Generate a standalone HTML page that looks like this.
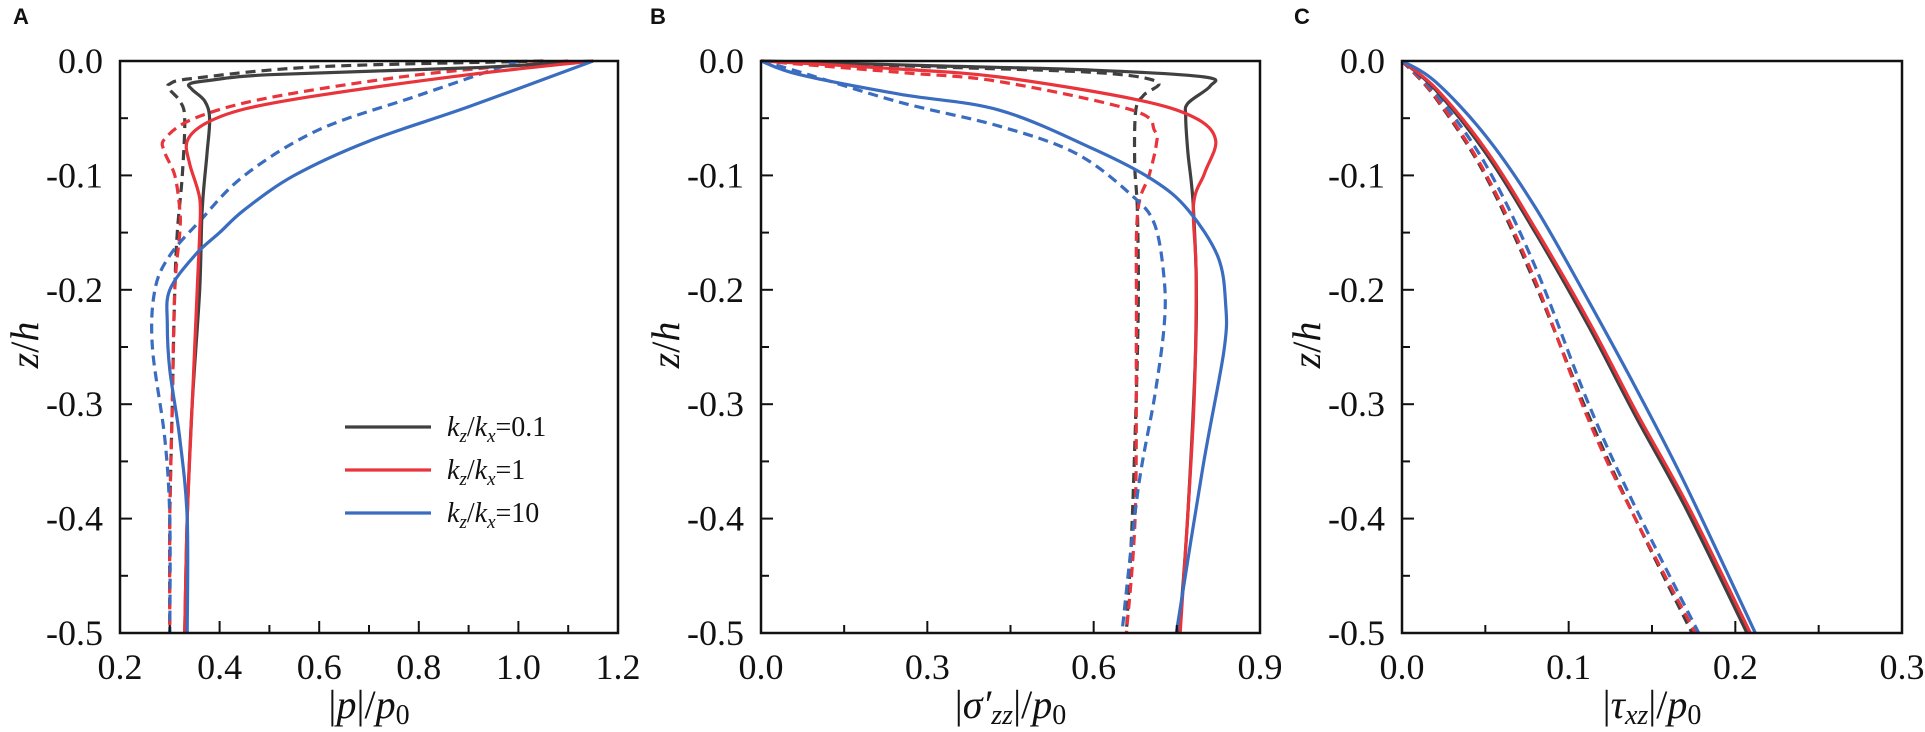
<!DOCTYPE html>
<html><head><meta charset="utf-8"><style>
body{margin:0;background:#fff;}
svg{display:block;}
text{font-family:"Liberation Serif",serif;fill:#111;}
.pl{font-family:"Liberation Sans",sans-serif;font-weight:bold;font-size:22px;}
</style></head><body>
<svg id="fig" width="1925" height="732" viewBox="0 0 1925 732"></svg>
<script>
// ---- data ----
const zTicks=[0,-0.1,-0.2,-0.3,-0.4,-0.5];
const aXTicks=[0.2,0.4,0.6,0.8,1.0,1.2];
const bXTicks=[0,0.3,0.6,0.9];
const cXTicks=[0,0.1,0.2,0.3];
const legendLabels=["0.1","1","10"];
const colors=["#404040","#e8343a","#3a6cc0"];
// panel A: [x,z]
const aBlackSolid=[[1.15,0],[0.9,-0.006],[0.5,-0.012],[0.38,-0.017],[0.34,-0.02],[0.345,-0.025],[0.37,-0.035],[0.38,-0.05],[0.375,-0.08],[0.365,-0.13],[0.36,-0.2],[0.345,-0.3],[0.335,-0.4],[0.33,-0.5]];
const aBlackDash=[[1.05,0],[0.6,-0.005],[0.35,-0.015],[0.3,-0.02],[0.3,-0.025],[0.32,-0.035],[0.33,-0.05],[0.325,-0.1],[0.315,-0.15],[0.31,-0.2],[0.305,-0.3],[0.3,-0.4],[0.3,-0.5]];
const aRedSolid=[[1.15,0],[0.9,-0.012],[0.6,-0.03],[0.45,-0.042],[0.37,-0.055],[0.335,-0.07],[0.34,-0.09],[0.36,-0.12],[0.36,-0.15],[0.355,-0.2],[0.345,-0.3],[0.335,-0.4],[0.33,-0.5]];
const aRedDash=[[1.1,0],[0.8,-0.012],[0.5,-0.032],[0.35,-0.05],[0.29,-0.068],[0.29,-0.08],[0.31,-0.1],[0.32,-0.13],[0.32,-0.15],[0.31,-0.2],[0.305,-0.3],[0.3,-0.4],[0.3,-0.5]];
const aBlueSolid=[[1.15,0],[0.9,-0.04],[0.7,-0.07],[0.55,-0.1],[0.45,-0.13],[0.4,-0.15],[0.35,-0.17],[0.3,-0.2],[0.295,-0.23],[0.3,-0.27],[0.32,-0.33],[0.335,-0.4],[0.335,-0.5]];
const aBlueDash=[[1.0,0],[0.8,-0.03],[0.6,-0.06],[0.45,-0.1],[0.36,-0.14],[0.3,-0.17],[0.27,-0.2],[0.265,-0.25],[0.29,-0.33],[0.3,-0.4],[0.3,-0.5]];
// panel B
const bBlackSolid=[[0,0],[0.3,-0.004],[0.6,-0.008],[0.8,-0.014],[0.81,-0.022],[0.77,-0.037],[0.766,-0.049],[0.77,-0.08],[0.78,-0.13],[0.785,-0.232],[0.77,-0.395],[0.754,-0.5]];
const bBlackDash=[[0,0],[0.3,-0.005],[0.6,-0.01],[0.714,-0.018],[0.69,-0.03],[0.676,-0.043],[0.674,-0.09],[0.679,-0.134],[0.68,-0.23],[0.67,-0.395],[0.659,-0.5]];
const bRedSolid=[[0,0],[0.25,-0.007],[0.43,-0.014],[0.67,-0.033],[0.78,-0.049],[0.82,-0.069],[0.8,-0.098],[0.78,-0.126],[0.785,-0.19],[0.78,-0.31],[0.756,-0.5]];
const bRedDash=[[0,0],[0.25,-0.01],[0.43,-0.018],[0.67,-0.043],[0.71,-0.061],[0.713,-0.073],[0.7,-0.1],[0.679,-0.134],[0.677,-0.23],[0.675,-0.395],[0.659,-0.5]];
const bBlueSolid=[[0,0],[0.07,-0.012],[0.25,-0.029],[0.43,-0.043],[0.6,-0.077],[0.707,-0.104],[0.77,-0.13],[0.824,-0.171],[0.838,-0.212],[0.835,-0.253],[0.797,-0.355],[0.749,-0.5]];
const bBlueDash=[[0,0],[0.07,-0.0096],[0.25,-0.036],[0.43,-0.057],[0.569,-0.081],[0.67,-0.118],[0.71,-0.143],[0.727,-0.19],[0.727,-0.232],[0.71,-0.293],[0.68,-0.375],[0.651,-0.5]];
// panel C
const cBlackSolid=[[0,0],[0.02,-0.025],[0.05,-0.08],[0.08,-0.15],[0.112,-0.232],[0.14,-0.31],[0.17,-0.39],[0.207,-0.5]];
const cRedSolid=[[0,0],[0.021,-0.025],[0.051,-0.079],[0.081,-0.149],[0.113,-0.23],[0.141,-0.308],[0.172,-0.39],[0.209,-0.5]];
const cBlueSolid=[[0,0],[0.02,-0.018],[0.05,-0.065],[0.08,-0.128],[0.112,-0.21],[0.14,-0.285],[0.17,-0.37],[0.212,-0.5]];
const cBlackDash=[[0,0],[0.02,-0.032],[0.05,-0.1],[0.08,-0.195],[0.112,-0.31],[0.14,-0.4],[0.174,-0.5]];
const cRedDash=[[0,0],[0.02,-0.031],[0.05,-0.098],[0.08,-0.192],[0.112,-0.314],[0.14,-0.4],[0.176,-0.5]];
const cBlueDash=[[0,0],[0.02,-0.028],[0.05,-0.09],[0.08,-0.18],[0.112,-0.3],[0.14,-0.39],[0.178,-0.5]];

const NS="http://www.w3.org/2000/svg";
const svg=document.getElementById('fig');
function mk(tag,attrs,parent){const e=document.createElementNS(NS,tag);for(const k in attrs)e.setAttribute(k,attrs[k]);(parent||svg).appendChild(e);return e;}
function smooth(pts){let d="M"+pts[0][0]+","+pts[0][1];for(let i=0;i<pts.length-1;i++){const p0=pts[i-1]||pts[i],p1=pts[i],p2=pts[i+1],p3=pts[i+2]||p2;const c1=[p1[0]+(p2[0]-p0[0])/6,p1[1]+(p2[1]-p0[1])/6],c2=[p2[0]-(p3[0]-p1[0])/6,p2[1]-(p3[1]-p1[1])/6];d+=" C"+c1[0].toFixed(1)+","+c1[1].toFixed(1)+" "+c2[0].toFixed(1)+","+c2[1].toFixed(1)+" "+p2[0].toFixed(1)+","+p2[1].toFixed(1);}return d;}

const T=61,Bm=633;
function panel(cfg){
  const g=mk('g',{});
  
  
  const L=cfg.L,R=cfg.R;
  const sx=v=>L+(v-cfg.xmin)/(cfg.xmax-cfg.xmin)*(R-L);
  const sz=v=>T+(-v)/0.5*(Bm-T);
  cfg.series.forEach((s,i)=>{
    const p=mk('path',{d:smooth(s.data.map(q=>[sx(q[0]),sz(q[1])])),fill:'none',stroke:colors[s.c],'stroke-width':3.2,'stroke-dasharray':s.dash?'10,6':'none'},g);
    
    
  });
  const fr=mk('rect',{x:L,y:T,width:R-L,height:Bm-T,fill:'none',stroke:'#111','stroke-width':2.5},g);
  
  
  for(let k=0;k<=10;k++){const v=-k*0.05;const y=sz(v);const len=k%2?8:12;mk('line',{x1:L,x2:L+len,y1:y,y2:y,stroke:'#111','stroke-width':2},g);}
  zTicks.forEach(v=>{const t=mk('text',{x:L-17,y:sz(v)+12,'text-anchor':'end','font-size':36},g);t.textContent=v===0?'0.0':v.toFixed(1);});
  const n=cfg.xt.length-1;
  for(let k=0;k<=2*n;k++){const v=cfg.xmin+k*(cfg.xmax-cfg.xmin)/(2*n);const x=sx(v);const len=k%2?8:12;mk('line',{x1:x,x2:x,y1:Bm,y2:Bm-len,stroke:'#111','stroke-width':2},g);}
  cfg.xt.forEach(v=>{const t=mk('text',{x:sx(v),y:Bm+46,'text-anchor':'middle','font-size':36},g);t.textContent=v.toFixed(1);});
  const yt=mk('text',{x:0,y:0,'font-size':40,'text-anchor':'middle',transform:`translate(${L-82},345) rotate(-90)`},g);
  yt.innerHTML='<tspan font-style="italic">z</tspan>/<tspan font-style="italic">h</tspan>';
  
  const xt=mk('text',{x:(L+R)/2,y:718,'font-size':40,'text-anchor':'middle'},g);
  xt.innerHTML=cfg.xtitle;
  
  const pl=mk('text',{x:cfg.lx,y:24,'class':'pl'},g);pl.textContent=cfg.id.toUpperCase();
  
  return g;
}
const sub=(s)=>`<tspan font-size="28" dy="6">${s}</tspan><tspan dy="-6"></tspan>`;
panel({id:'a',L:120,R:618,xmin:0.2,xmax:1.2,xt:aXTicks,lx:13,
 xtitle:'|<tspan font-style="italic">p</tspan>|/<tspan font-style="italic">p</tspan>'+sub('0'),
 series:[{name:'kz01-dashed',data:aBlackDash,c:0,dash:1},{name:'kz1-dashed',data:aRedDash,c:1,dash:1},{name:'kz10-dashed',data:aBlueDash,c:2,dash:1},
 {name:'kz01-solid',data:aBlackSolid,c:0},{name:'kz1-solid',data:aRedSolid,c:1},{name:'kz10-solid',data:aBlueSolid,c:2}]});
panel({id:'b',L:761,R:1260,xmin:0,xmax:0.9,xt:bXTicks,lx:650,
 xtitle:'|<tspan font-style="italic">σ′</tspan>'+'<tspan font-style="italic" font-size="28" dy="6">zz</tspan><tspan dy="-6">|/</tspan><tspan font-style="italic">p</tspan>'+sub('0'),
 series:[{name:'kz01-dashed',data:bBlackDash,c:0,dash:1},{name:'kz1-dashed',data:bRedDash,c:1,dash:1},{name:'kz10-dashed',data:bBlueDash,c:2,dash:1},
 {name:'kz01-solid',data:bBlackSolid,c:0},{name:'kz1-solid',data:bRedSolid,c:1},{name:'kz10-solid',data:bBlueSolid,c:2}]});
panel({id:'c',L:1402,R:1902,xmin:0,xmax:0.3,xt:cXTicks,lx:1294,
 xtitle:'|<tspan font-style="italic">τ</tspan><tspan font-style="italic" font-size="28" dy="6">xz</tspan><tspan dy="-6">|/</tspan><tspan font-style="italic">p</tspan>'+sub('0'),
 series:[{name:'kz01-dashed',data:cBlackDash,c:0,dash:1},{name:'kz1-dashed',data:cRedDash,c:1,dash:1},{name:'kz10-dashed',data:cBlueDash,c:2,dash:1},
 {name:'kz01-solid',data:cBlackSolid,c:0},{name:'kz1-solid',data:cRedSolid,c:1},{name:'kz10-solid',data:cBlueSolid,c:2}]});
const lg=mk('g',{});


legendLabels.forEach((lab,i)=>{
  const y=427+i*43;
  mk('line',{x1:345,x2:431,y1:y,y2:y,stroke:colors[i],'stroke-width':3.2},lg);
  const t=mk('text',{x:447,y:y+9,'font-size':28},lg);
  t.innerHTML='<tspan font-style="italic">k</tspan><tspan font-style="italic" font-size="19" dy="6">z</tspan><tspan dy="-6">/</tspan><tspan font-style="italic">k</tspan><tspan font-style="italic" font-size="19" dy="6">x</tspan><tspan dy="-6">='+lab+'</tspan>';
  
  
});
</script>
</body></html>
